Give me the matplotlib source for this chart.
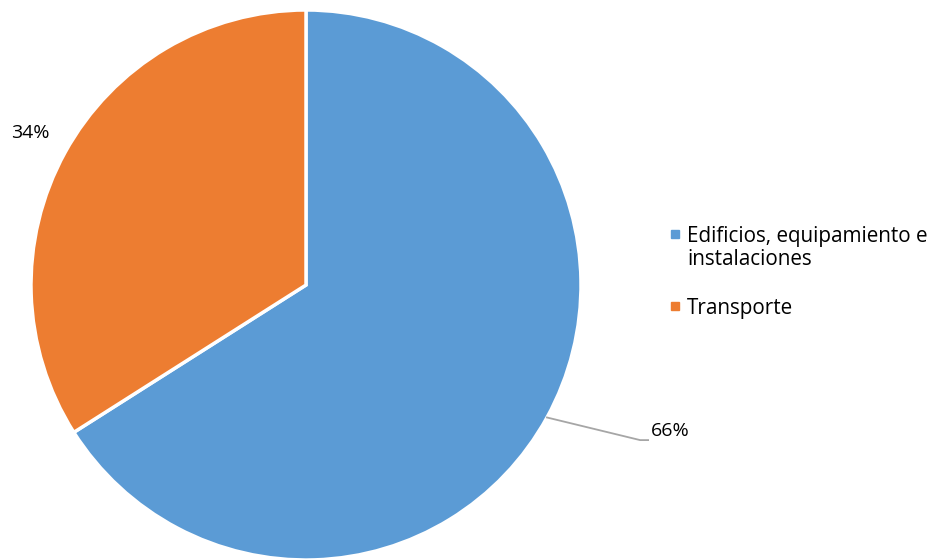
import matplotlib.pyplot as plt
import numpy as np

plt.rcParams['font.family'] = ['Open Sans', 'DejaVu Sans']

labels = [["Edificios, equipamiento e", "instalaciones"], ["Transporte"]]
values = [66, 34]
pct_labels = ["66%", "34%"]
colors = ["#5B9BD5", "#ED7D31"]

W, H = 936, 560
fig = plt.figure(figsize=(W / 100, H / 100), dpi=100)
ax = fig.add_axes([31 / W, 0, 550 / W, 550 / H])

wedges, _ = ax.pie(values, colors=colors, startangle=90, counterclock=False,
                   radius=1, wedgeprops=dict(edgecolor="white", linewidth=2.5))
ax.set_xlim(-1, 1)
ax.set_ylim(-1, 1)
ax.set_aspect("equal")
ax.axis("off")

# 66% label with leader line
w = wedges[0]
ang = np.deg2rad((w.theta1 + w.theta2) / 2)
x0, y0 = np.cos(ang), np.sin(ang)
ax.plot([x0, 1.215, 1.244], [y0, -0.564, -0.564], color="#A6A6A6",
        lw=1.3, clip_on=False)
ax.text(1.255, -0.53, pct_labels[0], fontsize=14, va="center", ha="left",
        color="#000000")

# 34% label
w = wedges[1]
ang = np.deg2rad((w.theta1 + w.theta2) / 2)
ax.text(np.cos(ang) * 1.145, np.sin(ang) * 1.15, pct_labels[1], fontsize=14,
        va="center", ha="center", color="#000000")

# legend drawn by hand (square aligned with first line, like the original)
baselines = [[242, 265], [314]]
for lines, col, bl in zip(labels, colors, baselines):
    fig.patches.append(plt.Rectangle((671 / W, 1 - (bl[0] - 4) / H), 8 / W, 8 / H,
                                     transform=fig.transFigure, color=col))
    for txt, y in zip(lines, bl):
        fig.text(687 / W, 1 - y / H, txt, fontsize=14.9, va="baseline", ha="left",
                 color="#000000")

fig.savefig("out.png", dpi=100)
